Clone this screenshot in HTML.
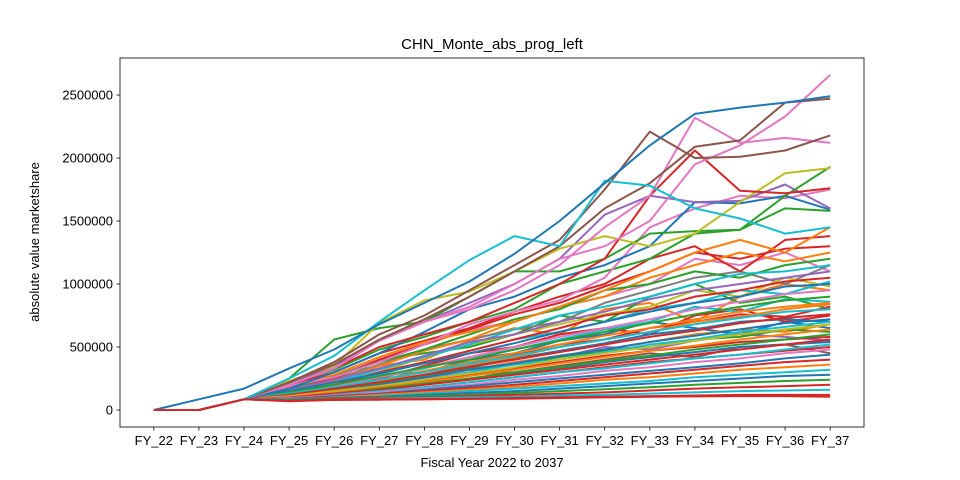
<!DOCTYPE html>
<html><head><meta charset="utf-8"><style>
html,body{margin:0;padding:0;background:#fff;}
svg{display:block;font-family:"Liberation Sans","DejaVu Sans",sans-serif;}
</style></head><body>
<svg id="chart" width="960" height="480" viewBox="0 0 960 480">
<defs><clipPath id="plotclip"><rect x="120" y="58" width="744" height="369"/></clipPath></defs>
<rect x="0" y="0" width="960" height="480" fill="#fff"/>
<text x="492" y="49" font-size="15" text-anchor="middle">CHN_Monte_abs_prog_left</text>
<g id="lines" clip-path="url(#plotclip)"></g>
<g id="axes"></g>
<text x="492" y="467" font-size="13" text-anchor="middle">Fiscal Year 2022 to 2037</text>
<text x="0" y="0" font-size="13" text-anchor="middle" transform="translate(39,242) rotate(-90)">absolute value marketshare</text>
</svg>
<script>
const categories = ["FY_22","FY_23","FY_24","FY_25","FY_26","FY_27","FY_28","FY_29","FY_30","FY_31","FY_32","FY_33","FY_34","FY_35","FY_36","FY_37"];
const yTicks = [0,500000,1000000,1500000,2000000,2500000];
// series values in thousands
const s01=[0,0,85,130,180,280,300,400,450,550,600,700,650,600,700,650];
const s02=[0,0,85,120,250,350,400,550,650,600,800,850,700,900,1000,950];
const s03=[0,0,85,150,200,400,450,500,600,750,700,900,1000,850,900,800];
const s04=[0,0,85,100,200,250,350,450,500,600,650,600,750,800,700,750];
const s05=[0,0,85,110,160,200,250,300,380,420,500,480,550,600,580,550];
const s06=[0,0,85,90,130,180,220,280,300,350,400,450,420,500,520,450];
const s07=[0,0,85,160,260,420,520,640,700,820,900,1000,1200,1150,1250,1100];
const s08=[0,0,85,140,240,360,480,560,640,700,850,950,1050,1100,1000,1150];
const s09=[0,0,85,150,210,300,420,520,600,680,760,820,950,900,1050,980];
const s10=[0,0,85,120,200,280,380,470,560,620,700,800,850,950,920,1020];
const s11=[0,0,85,110,180,260,330,420,480,560,640,700,820,780,880,860];
const s12=[0,0,85,130,170,240,300,380,440,520,560,650,700,760,740,820];
const s13=[0,0,85,100,150,220,280,350,410,470,530,600,640,700,720,700];
const s14=[0,0,85,95,140,200,260,320,380,430,480,540,600,640,620,680];
const s15=[0,0,85,110,160,210,270,330,360,420,470,500,560,580,640,620];
const s16=[0,0,85,90,130,180,230,280,330,380,430,470,500,540,560,580];
const s17=[0,0,85,100,140,190,240,300,360,400,460,520,560,620,660,700];
const s18=[0,0,85,120,170,230,300,360,420,500,560,620,700,740,800,840];
const s19=[0,0,85,90,120,160,200,250,290,330,380,420,460,500,520,540];
const s20=[0,0,85,85,110,140,180,220,260,300,340,380,410,440,470,500];
const s21=[0,0,85,180,250,400,520,640,760,850,980,1100,1250,1200,1280,1300];
const s22=[0,0,85,150,230,350,470,560,700,820,900,1050,1150,1250,1180,1250];
const s23=[0,0,85,170,270,380,480,600,720,800,950,1000,1100,1050,1150,1200];
const s24=[0,0,85,140,220,320,420,520,640,750,820,900,1000,1080,1100,1150];
const s25=[0,0,85,160,240,330,430,540,600,700,780,880,950,1000,1050,1100];
const s26=[0,0,85,130,200,300,380,470,560,650,750,800,900,950,1020,1050];
const s27=[0,0,85,150,220,290,370,450,530,620,700,780,850,900,980,1000];
const s28=[0,0,85,120,190,260,340,420,500,580,650,720,800,860,920,950];
const s29=[0,0,85,140,200,270,340,400,480,550,620,690,760,820,870,900];
const s30=[0,0,85,110,170,240,310,380,450,520,590,650,720,780,820,850];
const s31=[0,0,85,130,180,240,300,370,430,500,560,620,680,730,780,800];
const s32=[0,0,85,120,170,220,280,340,400,460,520,580,630,690,730,760];
const s33=[0,0,85,100,150,200,260,320,370,430,480,540,590,640,690,720];
const s34=[0,0,85,110,150,190,240,290,340,400,450,500,550,600,640,680];
const s35=[0,0,85,100,140,180,220,270,320,370,420,470,510,560,600,640];
const s36=[0,0,85,95,130,170,210,250,300,340,390,430,480,520,560,600];
const s37=[0,0,85,100,130,160,200,240,280,320,360,400,440,480,520,560];
const s38=[0,0,85,90,120,150,180,220,260,300,330,370,410,440,480,520];
const s39=[0,0,85,95,115,140,170,200,240,270,310,340,380,410,450,480];
const s40=[0,0,85,90,110,130,160,190,220,250,280,310,340,370,410,440];
const s41=[0,0,85,85,105,125,150,175,200,230,260,290,320,350,380,400];
const s42=[0,0,85,80,100,120,140,160,185,210,240,260,290,320,340,360];
const s43=[0,0,85,85,95,110,130,150,170,190,210,230,260,280,300,320];
const s44=[0,0,85,80,95,105,120,135,150,170,190,210,230,250,270,280];
const s45=[0,0,85,80,90,100,110,120,135,150,165,180,200,215,230,240];
const s46=[0,0,85,75,85,95,100,110,120,130,140,155,170,180,190,200];
const s47=[0,0,85,75,80,90,95,100,105,115,120,130,140,150,155,160];
const s48=[0,0,85,75,80,85,85,90,95,100,105,110,115,120,120,120];
const s49=[0,0,85,200,300,450,550,650,780,900,1000,1200,1300,1100,1350,1380];
const s50=[0,0,85,180,280,420,540,620,700,820,950,1100,1250,1350,1250,1450];
const s51=[0,0,85,210,320,480,580,700,800,1000,1100,1200,1400,1430,1600,1580];
const s52=[0,0,85,190,260,380,520,680,780,870,1050,1450,1600,1700,1680,1750];
const s53=[0,0,85,170,300,450,620,800,900,1050,1150,1300,1650,1640,1700,1590];
const s54=[0,0,85,200,350,550,700,850,1000,1200,1550,1700,1650,1660,1790,1600];
const s55=[0,0,85,250,560,650,700,900,1100,1100,1200,1400,1420,1430,1700,1930];
const s56=[0,0,85,230,350,690,870,940,1100,1280,1380,1300,1400,1650,1880,1920];
const s57=[0,0,85,200,330,500,600,700,850,1000,1200,1700,2060,1740,1720,1760];
const s58=[0,0,85,200,330,550,700,800,950,1150,1450,1700,2320,2120,2160,2120];
const s59=[0,0,85,200,330,550,700,820,1000,1200,1300,1500,1950,2100,2330,2660];
const s60=[0,0,85,220,380,600,750,950,1150,1350,1750,2210,2000,2010,2060,2180];
const s61=[0,0,85,220,360,560,720,900,1100,1300,1600,1800,2090,2140,2440,2470];
const s62=[0,0,85,250,430,700,950,1190,1380,1300,1820,1780,1600,1520,1400,1450];
const s63=[0,85,170,330,480,680,850,1020,1240,1500,1800,2100,2350,2400,2440,2490];
const s64=[0,0,85,70,80,82,85,88,90,95,100,105,108,110,110,105];
const seriesList=[s01,s02,s03,s04,s05,s06,s07,s08,s09,s10,s11,s12,s13,s14,s15,s16,s17,s18,s19,s20,s21,s22,s23,s24,s25,s26,s27,s28,s29,s30,s31,s32,s33,s34,s35,s36,s37,s38,s39,s40,s41,s42,s43,s44,s45,s46,s47,s48,s49,s50,s51,s52,s53,s54,s55,s56,s57,s58,s59,s60,s61,s62,s63,s64];
const palette=["#1f77b4","#ff7f0e","#2ca02c","#d62728","#9467bd","#8c564b","#e377c2","#7f7f7f","#bcbd22","#17becf"];
const colorIdx=[0,1,2,3,4,5,6,7,8,9,9,3,0,1,2,3,9,1,0,3,3,1,2,9,4,3,0,6,2,1,9,3,0,8,1,2,3,9,6,0,3,1,9,0,2,3,9,3,3,1,2,6,0,4,2,8,3,6,6,5,5,9,0,3];
const NS="http://www.w3.org/2000/svg";
const L=120,R=864,T=58,B=427;
const xMin=-0.75,xMax=categories.length-1+0.75;
const yMin=-134900,yMax=2794000;
function xScale(i){return L+(i-xMin)/(xMax-xMin)*(R-L);}
function yScale(v){return B-(v-yMin)/(yMax-yMin)*(B-T);}
const lines=document.getElementById('lines');
seriesList.forEach((s,k)=>{
  const p=document.createElementNS(NS,'polyline');
  p.setAttribute('points',s.map((v,i)=>xScale(i).toFixed(1)+','+yScale(v*1000).toFixed(1)).join(' '));
  p.setAttribute('fill','none');
  p.setAttribute('stroke',palette[colorIdx[k%colorIdx.length]]);
  p.setAttribute('stroke-width','2');
  p.setAttribute('stroke-linejoin','round');
  
  
  lines.appendChild(p);
});
const axes=document.getElementById('axes');
const frame=document.createElementNS(NS,'rect');
frame.setAttribute('x',L);frame.setAttribute('y',T);frame.setAttribute('width',R-L);frame.setAttribute('height',B-T);
frame.setAttribute('fill','none');frame.setAttribute('stroke','#000');frame.setAttribute('stroke-width','0.8');


axes.appendChild(frame);
categories.forEach((c,i)=>{
  const x=xScale(i);
  const t=document.createElementNS(NS,'line');
  t.setAttribute('x1',x);t.setAttribute('x2',x);t.setAttribute('y1',B);t.setAttribute('y2',B+3.5);
  t.setAttribute('stroke','#000');t.setAttribute('stroke-width','0.8');
  
  
  axes.appendChild(t);
  const tx=document.createElementNS(NS,'text');
  tx.setAttribute('x',x);tx.setAttribute('y',B+18);tx.setAttribute('font-size','13');tx.setAttribute('text-anchor','middle');
  tx.textContent=c;
  
  
  axes.appendChild(tx);
});
yTicks.forEach(v=>{
  const y=yScale(v);
  const t=document.createElementNS(NS,'line');
  t.setAttribute('x1',L-3.5);t.setAttribute('x2',L);t.setAttribute('y1',y);t.setAttribute('y2',y);
  t.setAttribute('stroke','#000');t.setAttribute('stroke-width','0.8');
  
  
  axes.appendChild(t);
  const tx=document.createElementNS(NS,'text');
  tx.setAttribute('x',L-7);tx.setAttribute('y',y+4.5);tx.setAttribute('font-size','13');tx.setAttribute('text-anchor','end');
  tx.textContent=String(v);
  
  
  axes.appendChild(tx);
});
</script>
</body></html>
